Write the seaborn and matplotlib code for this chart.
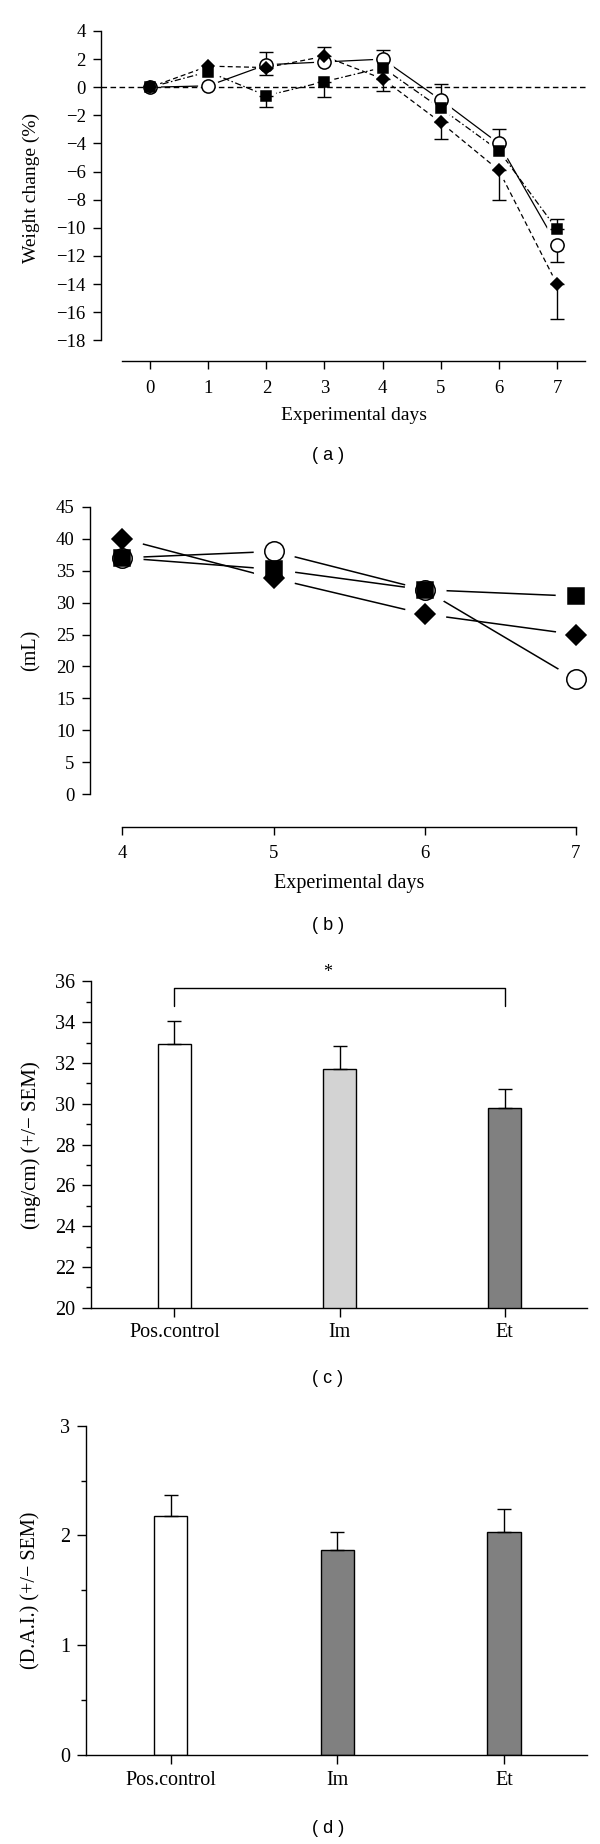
import numpy as np
import matplotlib
matplotlib.use('Agg')
from matplotlib import pyplot as plt
from matplotlib.ticker import MultipleLocator
import seaborn as sns


# Seaborn global style, black ink like the journal figure.
sns.set_style('ticks', {'axes.edgecolor': 'black', 'text.color': 'black',
                        'xtick.color': 'black', 'ytick.color': 'black',
                        'axes.labelcolor': 'black'})
plt.rcParams['font.family'] = ['Liberation Serif', 'DejaVu Serif']
plt.rcParams['axes.linewidth'] = 1.0

# (a) body weight change per day
days_a = [0, 1, 2, 3, 4, 5, 6, 7]
weight_circle = [0, 0.1, 1.6, 1.8, 2.0, -0.9, -4.0, -11.2]
weight_square = [0, 1.1, -0.6, 0.4, 1.4, -1.5, -4.5, -10.1]
weight_diamond = [0, 1.5, 1.4, 2.2, 0.6, -2.5, -5.9, -14.0]
# one-sided error bars as drawn in the figure
err_circle_up = [0, 0, 0.9, 0, 0.65, 1.15, 1.0, 0]
err_circle_lo = [0, 0, 0, 0, 0, 0, 0, 1.2]
err_square_up = [0, 0, 0, 0, 0, 0, 0, 0.7]
err_square_lo = [0, 0, 0.8, 1.1, 0, 0, 0, 0]
err_diamond_up = [0, 0, 0, 0.65, 0, 0, 0, 0]
err_diamond_lo = [0, 0, 0.5, 0, 0.9, 1.15, 2.1, 2.5]

# (b) volume (mL)
days_b = [4, 5, 6, 7]
vol_circle = [37, 38, 32, 18]
vol_square = [37, 35.2, 32, 31]
vol_diamond = [40, 33.8, 28.2, 25]

# (c) and (d) group bars
groups = ['Pos.control', 'Im', 'Et']
colon_ratio = [32.95, 31.7, 29.8]
colon_sem = [1.1, 1.15, 0.9]
dai = [2.18, 1.87, 2.03]
dai_sem = [0.19, 0.16, 0.21]
colors_c = ['white', '#d3d3d3', '#808080']
colors_d = ['white', '#808080', '#808080']

W, H = 600, 1844


def axes_px(left, top, right, bottom):
    # pixel box -> figure fraction
    return [left / W, 1 - bottom / H, (right - left) / W, (bottom - top) / H]


def label_panel(fig, y, letter):
    fig.text(328 / W, 1 - y / H, f'( {letter} )', ha='center', va='center',
             fontsize=13, family=['Liberation Sans', 'DejaVu Sans'])


def place_labels(ax, xlab, ylab, size=14.5):
    if xlab is not None:
        ax.set_xlabel('Experimental days', fontsize=size)
        ax.xaxis.set_label_coords(*xlab)
        ax.xaxis.label.set_va('center')
    ax.yaxis.set_label_coords(*ylab)
    ax.yaxis.label.set_va('center')
    ax.yaxis.label.set_fontsize(size)


fig = plt.figure(figsize=(W / 100, H / 100), dpi=100)

# ---------------- (a) ----------------
ax_a = fig.add_axes(axes_px(101, 31, 586, 361))
series_a = [
    (weight_circle, err_circle_lo, err_circle_up, 'o', 9.5, 'white', '-'),
    (weight_square, err_square_lo, err_square_up, 's', 6.8, 'black', (0, (5, 2, 1.2, 2))),
    (weight_diamond, err_diamond_lo, err_diamond_up, 'D', 6.0, 'black', (0, (4, 2.5))),
]
for vals, lo, hi, mk, ms, fc, ls in series_a:
    sns.lineplot(x=days_a, y=vals, ax=ax_a, color='black', lw=0.9, linestyle=ls,
                 errorbar=None, zorder=1)
    # white halo so the lines stop short of the symbols
    ax_a.plot(days_a, vals, ls='none', marker='o', ms=14, color='white', zorder=1.5)
ax_a.axhline(0, color='black', lw=1, ls=(0, (4, 2.5)), zorder=1.6)
for vals, lo, hi, mk, ms, fc, ls in series_a:
    lo, hi, v, d = np.array(lo), np.array(hi), np.array(vals), np.array(days_a)
    m = (lo > 0) | (hi > 0)
    ax_a.errorbar(d[m], v[m], yerr=[lo[m], hi[m]], fmt='none', ecolor='black',
                  elinewidth=1, capsize=5, capthick=1, zorder=2)
for vals, lo, hi, mk, ms, fc, ls in series_a:
    ax_a.plot(days_a, vals, ls='none', marker=mk, ms=ms, mfc=fc, mec='black',
              mew=1.1, zorder=3)

ax_a.set_xlim(-0.846, 7.5)
ax_a.set_ylim(-19.47, 4)
ax_a.set_xticks(range(8))
ax_a.set_yticks(range(-18, 5, 2))
sns.despine(ax=ax_a)
ax_a.spines['left'].set_bounds(-18, 4)
ax_a.spines['bottom'].set_bounds(-0.49, 7.48)
ax_a.tick_params(length=5.5, width=1, labelsize=13.5)
ax_a.tick_params(axis='x', pad=8.5)
ax_a.tick_params(axis='y', pad=5.5)
ax_a.set_ylabel('Weight change (%)')
place_labels(ax_a, (0.522, -0.164), (-0.144, 0.524), 14)
label_panel(fig, 455, 'a')

# ---------------- (b) ----------------
ax_b = fig.add_axes(axes_px(90, 506.7, 590.7, 826.7))
series_b = [
    (vol_circle, 'o', 14, 'white'),
    (vol_square, 's', 11.5, 'black'),
    (vol_diamond, 'D', 10, 'black'),
]
for vals, mk, ms, fc in series_b:
    sns.lineplot(x=days_b, y=vals, ax=ax_b, color='black', lw=1.1,
                 errorbar=None, zorder=1)
    ax_b.plot(days_b, vals, ls='none', marker='o', ms=29, color='white', zorder=1.5)
for vals, mk, ms, fc in series_b:
    ax_b.plot(days_b, vals, ls='none', marker=mk, ms=ms, mfc=fc, mec='black',
              mew=1.1, zorder=3)
ax_b.set_xlim(3.785, 7.1)
ax_b.set_ylim(-5.07, 45)
ax_b.set_xticks(days_b)
ax_b.set_yticks(range(0, 46, 5))
sns.despine(ax=ax_b)
ax_b.spines['left'].set_bounds(0, 45)
ax_b.spines['bottom'].set_bounds(4, 7)
ax_b.tick_params(length=5.5, width=1, labelsize=13.5)
ax_b.tick_params(axis='x', pad=8)
ax_b.tick_params(axis='y', pad=5.5)
ax_b.set_ylabel('(mL)')
place_labels(ax_b, (0.517, -0.176), (-0.118, 0.552))
label_panel(fig, 925, 'b')

# ---------------- (c) ----------------
ax_c = fig.add_axes(axes_px(91.1, 981.3, 587.2, 1307.7))
sns.barplot(x=groups, y=colon_ratio, hue=groups, palette=colors_c, legend=False,
            width=0.2, saturation=1, edgecolor='black', linewidth=1,
            errorbar=None, ax=ax_c)
ax_c.errorbar(range(3), colon_ratio, yerr=[np.zeros(3), colon_sem], fmt='none',
              ecolor='black', elinewidth=1, capsize=5, capthick=1, zorder=3)
# significance bracket Pos.control vs Et
ax_c.plot([0, 0, 2, 2], [34.8, 35.67, 35.67, 34.8], color='black', lw=1, clip_on=False)
ax_c.text(0.93, 36.45, '*', ha='center', va='center', fontsize=13, clip_on=False)
ax_c.set_xlim(-0.505, 2.5)
ax_c.set_ylim(20, 36)
ax_c.set_yticks(range(20, 37, 2))
ax_c.yaxis.set_minor_locator(MultipleLocator(1))
sns.despine(ax=ax_c)
ax_c.tick_params(length=6.5, width=1, labelsize=14.5)
ax_c.tick_params(which='minor', length=3.5, width=1)
ax_c.tick_params(axis='x', pad=4.5)
ax_c.tick_params(axis='y', pad=5)
ax_c.set_xlabel('')
ax_c.set_ylabel('(mg/cm) (+/\u2212 SEM)')
place_labels(ax_c, None, (-0.121, 0.498), 15)
label_panel(fig, 1378, 'c')

# ---------------- (d) ----------------
ax_d = fig.add_axes(axes_px(86, 1425.7, 587.2, 1755))
sns.barplot(x=groups, y=dai, hue=groups, palette=colors_d, legend=False,
            width=0.2, saturation=1, edgecolor='black', linewidth=1,
            errorbar=None, ax=ax_d)
ax_d.errorbar(range(3), dai, yerr=[np.zeros(3), dai_sem], fmt='none',
              ecolor='black', elinewidth=1, capsize=5, capthick=1, zorder=3)
ax_d.set_xlim(-0.507, 2.5)
ax_d.set_ylim(0, 3)
ax_d.set_yticks(range(0, 4))
ax_d.yaxis.set_minor_locator(MultipleLocator(0.5))
sns.despine(ax=ax_d)
ax_d.tick_params(length=6.5, width=1, labelsize=14.5)
ax_d.tick_params(which='minor', length=3.5, width=1)
ax_d.tick_params(axis='x', pad=5)
ax_d.tick_params(axis='y', pad=5)
ax_d.set_xlabel('')
ax_d.set_ylabel('(D.A.I.) (+/\u2212 SEM)')
place_labels(ax_d, None, (-0.11, 0.501), 14.5)
label_panel(fig, 1828, 'd')

fig.savefig('out.png', dpi=100)
